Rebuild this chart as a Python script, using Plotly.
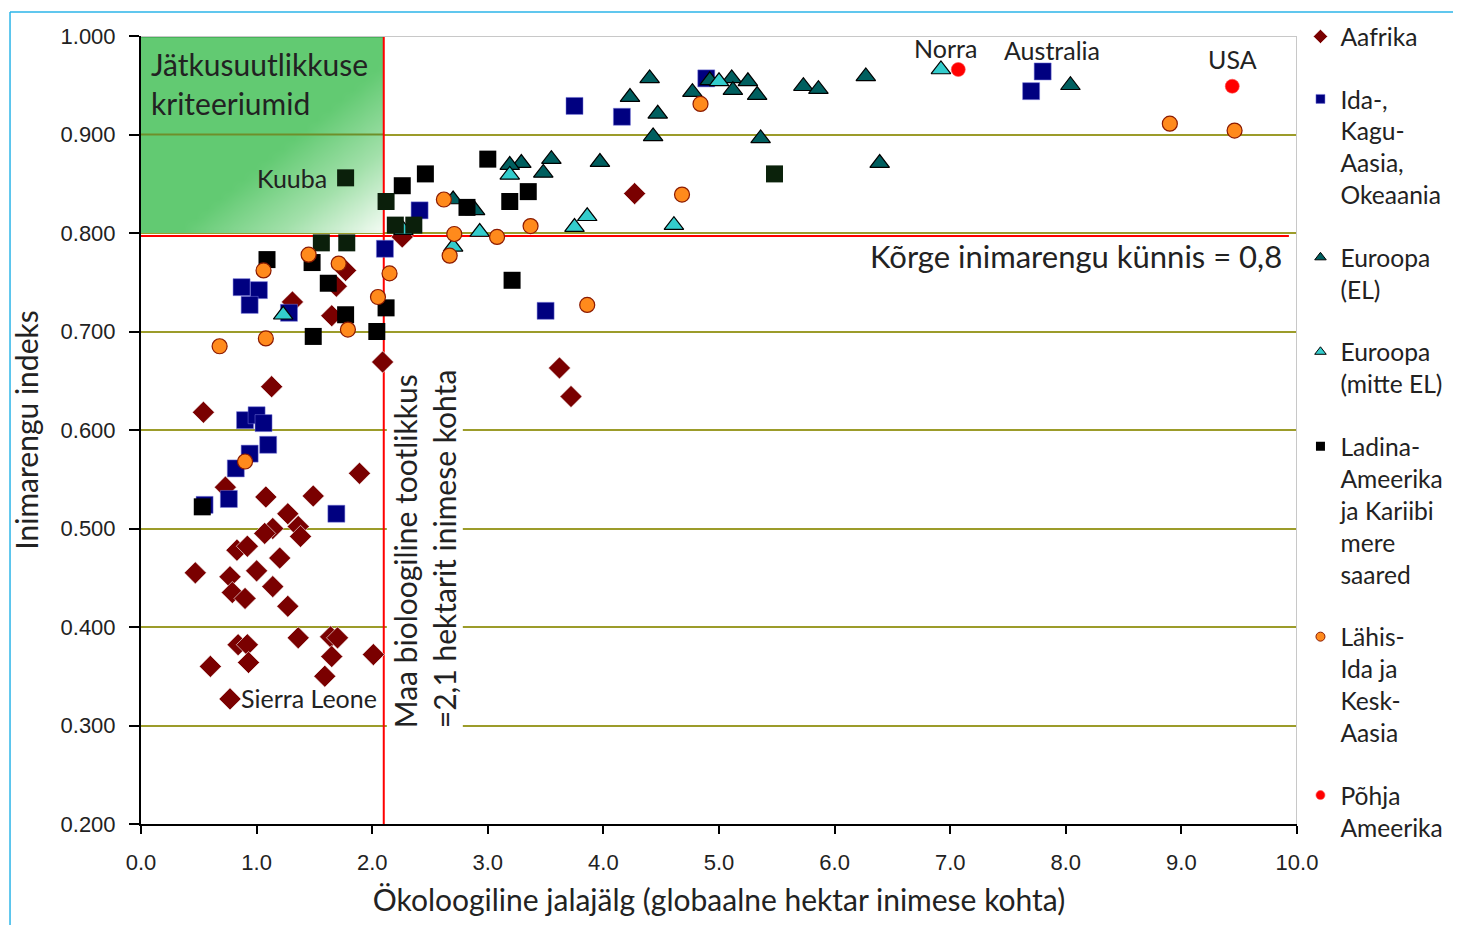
import numpy as np
import plotly.graph_objects as go

# ---------------- data ----------------
africa_x = [4.27, 3.62, 3.72, 2.09, 1.13, 0.54, 1.31, 1.77, 1.69, 1.65, 2.26, 1.89, 0.73, 1.08, 1.49, 1.27, 1.14,
            1.07, 1.36, 1.38, 0.83, 0.92, 1.20, 0.47, 0.77, 1.00, 0.79, 0.90, 1.14, 1.27, 1.36, 0.84, 0.92, 1.64,
            1.70, 0.60, 0.93, 1.65, 2.01, 1.59, 0.77]
africa_y = [0.840, 0.663, 0.634, 0.669, 0.644, 0.618, 0.730, 0.762, 0.746, 0.716, 0.796, 0.556, 0.542, 0.532,
            0.533, 0.515, 0.500, 0.495, 0.502, 0.492, 0.478, 0.482, 0.470, 0.455, 0.451, 0.457, 0.435, 0.429,
            0.441, 0.421, 0.389, 0.382, 0.382, 0.390, 0.389, 0.360, 0.364, 0.370, 0.372, 0.350, 0.327]

asia_x = [7.80, 7.70, 4.89, 3.75, 4.16, 2.41, 3.50, 2.11, 0.87, 1.02, 0.94, 1.28, 0.90, 1.00, 1.06, 1.10, 0.94,
          0.82, 0.76, 0.55, 1.69]
asia_y = [0.964, 0.944, 0.957, 0.929, 0.918, 0.823, 0.721, 0.784, 0.745, 0.742, 0.727, 0.719, 0.610, 0.615,
          0.607, 0.585, 0.576, 0.561, 0.530, 0.524, 0.515]

eu_x = [4.40, 4.23, 4.47, 4.43, 4.77, 4.92, 5.11, 5.25, 5.12, 5.33, 5.73, 5.86, 6.27, 5.36, 6.39, 3.97, 3.55,
        3.48, 3.29, 3.19, 2.70, 2.89, 8.04]
eu_y = [0.957, 0.938, 0.921, 0.898, 0.943, 0.955, 0.957, 0.954, 0.945, 0.940, 0.949, 0.946, 0.959, 0.896,
        0.871, 0.872, 0.875, 0.861, 0.871, 0.869, 0.834, 0.823, 0.950]

noneu_x = [6.92, 5.00, 3.19, 3.86, 3.75, 4.61, 2.93, 2.70, 1.23, 2.27]
noneu_y = [0.966, 0.954, 0.859, 0.817, 0.806, 0.808, 0.801, 0.786, 0.717, 0.803]

latam_x = [3.00, 2.46, 2.26, 2.12, 3.19, 3.35, 2.82, 2.20, 2.36, 1.77, 1.56, 1.78, 1.09, 1.48, 1.62, 2.12,
           1.77, 1.49, 2.04, 0.53, 3.21, 5.48]
latam_y = [0.875, 0.860, 0.848, 0.832, 0.832, 0.842, 0.826, 0.808, 0.808, 0.856, 0.790, 0.790, 0.773, 0.770,
           0.749, 0.724, 0.717, 0.695, 0.700, 0.522, 0.752, 0.860]
latam_colors = ["#000000", "#000000", "#000000", "#0b1f0b", "#000000", "#000000", "#000000", "#0b1f0b",
                "#0b1f0b", "#0b200b", "#0b1f0b", "#0b1f0b", "#000000", "#000000", "#000000", "#000000",
                "#000000", "#000000", "#000000", "#000000", "#000000", "#0b220b"]

mideast_x = [4.84, 4.68, 2.62, 3.37, 2.71, 3.08, 2.67, 3.86, 8.90, 9.46, 2.15, 2.05, 1.79, 1.71, 1.45, 1.06,
             1.08, 0.68, 0.90]
mideast_y = [0.931, 0.839, 0.834, 0.807, 0.799, 0.796, 0.777, 0.727, 0.911, 0.904, 0.759, 0.735, 0.702, 0.769,
             0.778, 0.762, 0.693, 0.685, 0.568]

na_x = [7.07, 9.44]
na_y = [0.966, 0.949]

biocap = 2.1          # Maa bioloogiline tootlikkus
hdi_threshold = 0.8   # Kõrge inimarengu künnis
x_range = [0, 10]
y_range = [0.2, 1.0]

FONT = "Lato, 'Open Sans', sans-serif"
TICKFONT = "'Liberation Sans', Arial, sans-serif"
TXT = "#222222"

fig = go.Figure()

# green gradient "sustainability" box
gx = np.linspace(0, biocap, 43)
gy = np.linspace(hdi_threshold, y_range[1], 21)
cx = (gx[:-1] + gx[1:]) / 2
cy = (gy[:-1] + gy[1:]) / 2
U, V = np.meshgrid(cx / biocap, (y_range[1] - cy) / (y_range[1] - hdi_threshold))
Z = np.clip((U + V - 1.15) / 0.85, 0, 1)
fig.add_trace(go.Heatmap(x=gx, y=gy, z=Z, zmin=0, zmax=1, zsmooth="best", showscale=False,
                         colorscale=[[0, "#62ca72"], [0.5, "#a2e0aa"], [1, "#f6fcf6"]],
                         hoverinfo="skip", showlegend=False))
# gridline over the green box and dark top edge
fig.add_trace(go.Scatter(x=[0, biocap], y=[0.9, 0.9], mode="lines", line=dict(color="#6e8f2a", width=2),
                         hoverinfo="skip", showlegend=False))
fig.add_trace(go.Scatter(x=[0, biocap], y=[y_range[1], y_range[1]], mode="lines",
                         line=dict(color="#2f9a45", width=3), hoverinfo="skip", showlegend=False))
# red threshold lines
fig.add_trace(go.Scatter(x=[biocap, biocap], y=y_range, mode="lines", line=dict(color="#ff0000", width=2),
                         hoverinfo="skip", showlegend=False))
fig.add_trace(go.Scatter(x=[0, 9.93], y=[hdi_threshold - 0.003] * 2, mode="lines",
                         line=dict(color="#ff0000", width=2), hoverinfo="skip", showlegend=False))

series = [
    # name, xs, ys, symbol, color, size, line color, line width, legend size
    ("Aafrika", africa_x, africa_y, "diamond", "#7a0000", 17, "rgba(255,255,255,0.6)", 1, 11),
    ("Ida-,<br>Kagu-<br>Aasia,<br>Okeaania", asia_x, asia_y, "square", "#000080", 17,
     "rgba(120,120,220,0.5)", 1, 9),
    ("Euroopa<br>(EL)", eu_x, eu_y, "triangle-up", "#005f5f", 17, "#000000", 1.2, 10),
    ("Euroopa<br>(mitte EL)", noneu_x, noneu_y, "triangle-up", "#33cccc", 17, "#000000", 1.2, 10),
    ("Ladina-<br>Ameerika<br>ja Kariibi<br>mere<br>saared", latam_x, latam_y, "square", latam_colors, 17,
     "rgba(0,0,0,0)", 0, 9),
    ("Lähis-<br>Ida ja<br>Kesk-<br>Aasia", mideast_x, mideast_y, "circle", "#ff8a1c", 15, "#8b1a00", 1.2, 9),
    ("Põhja<br>Ameerika", na_x, na_y, "circle", "#ff0000", 14, "rgba(255,80,80,0.6)", 1, 9),
]

for name, xs, ys, sym, col, size, lc, lw, lsize in series:
    fig.add_trace(go.Scatter(
        x=xs, y=ys, mode="markers", name=name, legendgroup=name, showlegend=False,
        marker=dict(symbol=sym, color=col, size=size, line=dict(color=lc, width=lw)),
    ))

for name, xs, ys, sym, col, size, lc, lw, lsize in series:
    legcol = col if isinstance(col, str) else "#000000"
    fig.add_trace(go.Scatter(
        x=[None], y=[None], mode="markers", name=name, legendgroup=name, showlegend=True,
        marker=dict(symbol=sym, color=legcol, size=lsize, line=dict(color=lc, width=min(lw, 1))),
    ))

lab_font = dict(family=FONT, size=25, color=TXT)
big_font = dict(family=FONT, size=30, color=TXT)
annotations = [
    dict(x=0.07, y=0.992, xref="x", yref="y", text="Jätkusuutlikkuse<br>kriteeriumid", showarrow=False,
         xanchor="left", yanchor="top", align="left", font=big_font),
    dict(x=1.63, y=0.856, xref="x", yref="y", text="Kuuba", showarrow=False, xanchor="right",
         yanchor="middle", font=lab_font),
    dict(x=6.96, y=0.988, xref="x", yref="y", text="Norra", showarrow=False, xanchor="center",
         yanchor="middle", font=lab_font),
    dict(x=7.88, y=0.986, xref="x", yref="y", text="Australia", showarrow=False, xanchor="center",
         yanchor="middle", font=lab_font),
    dict(x=9.44, y=0.977, xref="x", yref="y", text="USA", showarrow=False, xanchor="center",
         yanchor="middle", font=lab_font),
    dict(x=0.85, y=0.328, xref="x", yref="y", text="Sierra Leone", showarrow=False, xanchor="left",
         yanchor="middle", font=lab_font),
    dict(x=9.89, y=0.777, xref="x", yref="y", text="Kõrge inimarengu künnis = 0,8", showarrow=False,
         xanchor="right", yanchor="middle", font=dict(family=FONT, size=31, color=TXT)),
    dict(x=biocap, y=0.296, xref="x", yref="y", xshift=3,
         text="Maa bioloogiline tootlikkus<br>=2,1 hektarit inimese kohta", showarrow=False,
         textangle=-90, xanchor="left", yanchor="bottom", align="left", bgcolor="white", borderpad=0,
         font=big_font),
]

shapes = [
    # plot top and right borders
    dict(type="line", xref="x", yref="y", x0=0, x1=10, y0=1.0, y1=1.0, line=dict(color="#c8c8c8", width=2)),
    dict(type="line", xref="x", yref="y", x0=10, x1=10, y0=0.2, y1=1.0, line=dict(color="#c8c8c8", width=2)),
    # outer light blue frame
    dict(type="line", xref="paper", yref="paper", x0=-0.1133, x1=1.2, y0=1.0305, y1=1.0305,
         line=dict(color="#2bb5e8", width=1.5)),
    dict(type="line", xref="paper", yref="paper", x0=-0.1133, x1=-0.1133, y0=-0.2, y1=1.0305,
         line=dict(color="#2bb5e8", width=1.5)),
]

fig.update_layout(
    width=1461, height=925,
    margin=dict(l=133, r=172, t=28, b=109, autoexpand=False),
    paper_bgcolor="white", plot_bgcolor="white",
    font=dict(family=FONT, color=TXT),
    showlegend=True,
    legend=dict(x=1.003, y=1.028, xanchor="left", yanchor="top", valign="top", maxheight=1000,
                font=dict(family=FONT, size=24.6, color=TXT), traceorder="grouped", tracegroupgap=27.5,
                bgcolor="rgba(0,0,0,0)"),
    annotations=annotations,
    shapes=shapes,
    xaxis=dict(range=x_range, dtick=1, tick0=0, tickformat=".1f", showgrid=False, zeroline=False,
               showline=True, linecolor="#000000", linewidth=2, ticks="outside", ticklen=8, tickwidth=2,
               tickcolor="#000000", tickfont=dict(family=TICKFONT, size=22, color=TXT),
               ticklabelstandoff=10,
               title=dict(text="Ökoloogiline jalajälg (globaalne hektar inimese kohta)",
                          font=dict(family=FONT, size=30, color=TXT), standoff=16)),
    yaxis=dict(range=y_range, dtick=0.1, tick0=0.2, tickformat=".3f", showgrid=True, gridcolor="#9c9c2a",
               gridwidth=2, zeroline=False, showline=True, linecolor="#000000", linewidth=2,
               ticks="outside", ticklen=10, tickwidth=2, tickcolor="#000000",
               tickfont=dict(family=TICKFONT, size=22, color=TXT), ticklabelstandoff=9,
               title=dict(text="Inimarengu indeks", font=dict(family=FONT, size=30, color=TXT), standoff=14)),
)

fig.write_html("out.html")
